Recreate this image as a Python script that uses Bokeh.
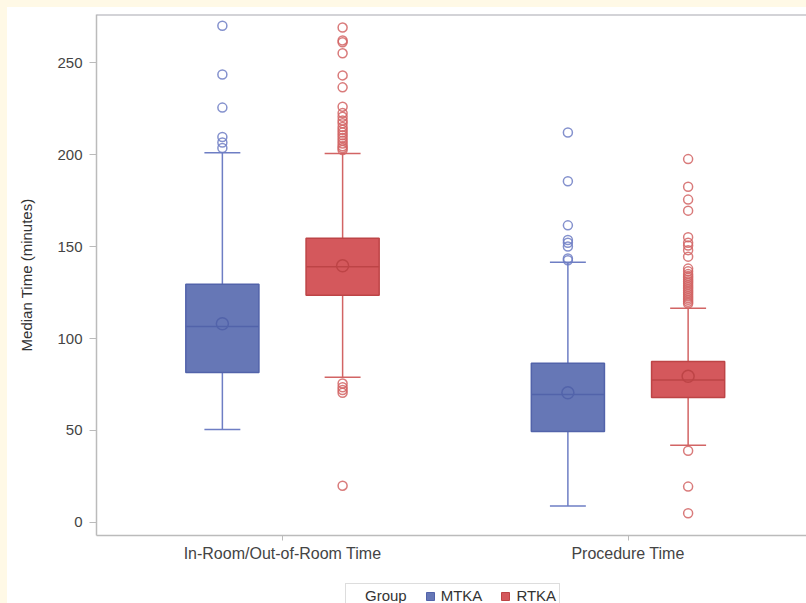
from bokeh.plotting import figure
from bokeh.layouts import column
from bokeh.models import (FixedTicker, Span, Legend, LegendItem)
from bokeh.embed import file_html
from bokeh.resources import INLINE

# ---------------- data ----------------
categories = ["In-Room/Out-of-Room Time", "Procedure Time"]
groups = ["MTKA", "RTKA"]

# per group: values for [In-Room, Procedure]
mtka_q1 = [81.5, 49.5]
mtka_median = [106.5, 69.5]
mtka_q3 = [129.5, 86.5]
mtka_mean = [108.0, 70.5]
mtka_whisker_low = [50.5, 9.0]
mtka_whisker_high = [201.0, 141.5]

rtka_q1 = [123.5, 68.0]
rtka_median = [139.0, 77.5]
rtka_q3 = [154.5, 87.5]
rtka_mean = [139.5, 79.5]
rtka_whisker_low = [79.0, 42.0]
rtka_whisker_high = [200.5, 116.5]

mtka_outliers_inroom = [270, 243.5, 225.5, 209.5, 206.5, 203.5]
mtka_outliers_proc = [212, 185.5, 161.5, 153.5, 152, 150, 143.5, 142.5]
rtka_outliers_inroom = [269, 262, 261, 255, 243, 236.5, 226, 222.5, 220.5, 218.5,
                        217, 215, 213.5, 212, 210.5, 209, 207.5, 206, 204.5,
                        203.5, 202.5, 75.5, 73.5, 72, 70.5, 20]
rtka_outliers_proc = [197.5, 182.5, 175.5, 169.5, 155, 152, 150.5, 148, 144.5,
                      138, 136.5, 135, 134, 133, 132, 131, 130, 129, 128, 127,
                      126, 125, 124, 123, 122, 121, 120, 119, 39, 19.5, 5]

# ---------------- style ----------------
FONT = "Liberation Sans"
blue_fill = "#6677B6"
blue_line = "#5263AA"
blue_light = "#6E7EC4"
red_fill = "#D4585C"
red_line = "#BD4446"
red_light = "#D26464"

cat_pos = [1.0, 2.0]
offset = 0.174
box_w = 0.2116
cap_w = 0.104

p = figure(width=799, height=565, output_backend="svg", toolbar_location=None,
           x_range=(0.4617, 2.5166), y_range=(-7.07, 276.1),
           min_border_left=89, min_border_right=0, min_border_top=7,
           min_border_bottom=37)
p.outline_line_color = None
p.background_fill_color = "white"
p.border_fill_color = "white"
p.xgrid.visible = False
p.ygrid.visible = False

series = [
    ("MTKA", -offset, mtka_q1, mtka_median, mtka_q3, mtka_mean, mtka_whisker_low,
     mtka_whisker_high, [mtka_outliers_inroom, mtka_outliers_proc],
     blue_fill, blue_line, blue_light),
    ("RTKA", offset, rtka_q1, rtka_median, rtka_q3, rtka_mean, rtka_whisker_low,
     rtka_whisker_high, [rtka_outliers_inroom, rtka_outliers_proc],
     red_fill, red_line, red_light),
]

# legend strip (below the chart); its ranges keep the proxy boxes out of view
lf = figure(width=799, height=31, output_backend="svg", toolbar_location=None,
            x_axis_location=None, y_axis_location=None,
            min_border_left=89, min_border_right=0, min_border_top=0,
            min_border_bottom=0, x_range=(0, 1), y_range=(-2000, -1999))
lf.outline_line_color = None
lf.background_fill_color = "white"
lf.border_fill_color = "white"
lf.xgrid.visible = False
lf.ygrid.visible = False

dummy = lf.scatter(x=[0.5], y=[-5000], marker="square", fill_alpha=0, line_alpha=0)
legend_items = [LegendItem(label="Group", renderers=[dummy])]

for (name, off, q1, med, q3, mean, wl, wh, outs, fill, line, light) in series:
    xs = [c + off for c in cat_pos]
    lefts = [x - box_w / 2 for x in xs]
    rights = [x + box_w / 2 for x in xs]
    # whiskers
    p.segment(x0=xs, y0=q3, x1=xs, y1=wh, line_color=light, line_width=1.5)
    p.segment(x0=xs, y0=q1, x1=xs, y1=wl, line_color=light, line_width=1.5)
    p.segment(x0=[x - cap_w / 2 for x in xs], y0=wh, x1=[x + cap_w / 2 for x in xs],
              y1=wh, line_color=light, line_width=1.5)
    p.segment(x0=[x - cap_w / 2 for x in xs], y0=wl, x1=[x + cap_w / 2 for x in xs],
              y1=wl, line_color=light, line_width=1.5)
    # box
    p.quad(left=lefts, right=rights, bottom=q1, top=q3, fill_color=fill,
           line_color=line, line_width=1.5)
    # median
    p.segment(x0=lefts, y0=med, x1=rights, y1=med, line_color=line, line_width=1.5)
    # mean
    p.scatter(x=xs, y=mean, marker="circle", size=12, fill_color=None,
              line_color=line, line_width=1.5)
    # outliers
    ox, oy = [], []
    for x, vals in zip(xs, outs):
        ox += [x] * len(vals)
        oy += vals
    p.scatter(x=ox, y=oy, marker="circle", size=9, fill_color=None,
              line_color=light, line_width=1.5, line_alpha=0.85)
    # legend proxy (same boxes, outside the strip's visible range)
    lr = lf.quad(left=lefts, right=rights, bottom=q1, top=q3, fill_color=fill,
                 line_color=line, line_width=1)
    legend_items.append(LegendItem(label=name, renderers=[lr]))

# top border line
p.add_layout(Span(location=276.1, dimension="width", line_color="#A8A8B0",
                  line_width=2))

# axes
p.xaxis.ticker = FixedTicker(ticks=cat_pos)
p.xaxis.major_label_overrides = {1: categories[0], 2: categories[1]}
p.yaxis.ticker = FixedTicker(ticks=[0, 50, 100, 150, 200, 250])
p.yaxis.axis_label = "Median Time (minutes)"
for ax in (p.xaxis[0], p.yaxis[0]):
    ax.axis_line_color = "#BBBBBB"
    ax.axis_line_width = 1.5
    ax.major_tick_line_color = "#BBBBBB"
    ax.major_tick_in = 0
    ax.minor_tick_line_color = None
    ax.major_label_text_font = FONT
    ax.major_label_text_color = "#444444"
    ax.axis_label_text_font = FONT
    ax.axis_label_text_font_style = "normal"
    ax.axis_label_text_color = "#333333"
p.xaxis.major_tick_out = 5
p.yaxis.major_tick_out = 7
p.xaxis.major_label_text_font_size = "16px"
p.yaxis.major_label_text_font_size = "15px"
p.yaxis.axis_label_text_font_size = "15px"
p.xaxis.major_label_standoff = 4
p.yaxis.major_label_standoff = 7
p.yaxis.axis_label_standoff = 19

legend = Legend(items=legend_items, orientation="horizontal", location=(249, -5),
                label_text_font=FONT, label_text_font_size="15px",
                label_text_color="#333333",
                glyph_width=10, glyph_height=10, spacing=18, padding=3,
                margin=0, border_line_color="#BBBBBB", border_line_width=1,
                label_standoff=6)
lf.add_layout(legend)

layout = column(p, lf, spacing=0, styles={"background-color": "white"})

html = file_html(layout, INLINE)
html = html.replace(
    "</head>",
    "<style>html, body { background-color:#FFF9E6 !important; }"
    " body { padding: 7px 0 0 7px !important; }</style></head>", 1)
open("out.html", "w").write(html)
